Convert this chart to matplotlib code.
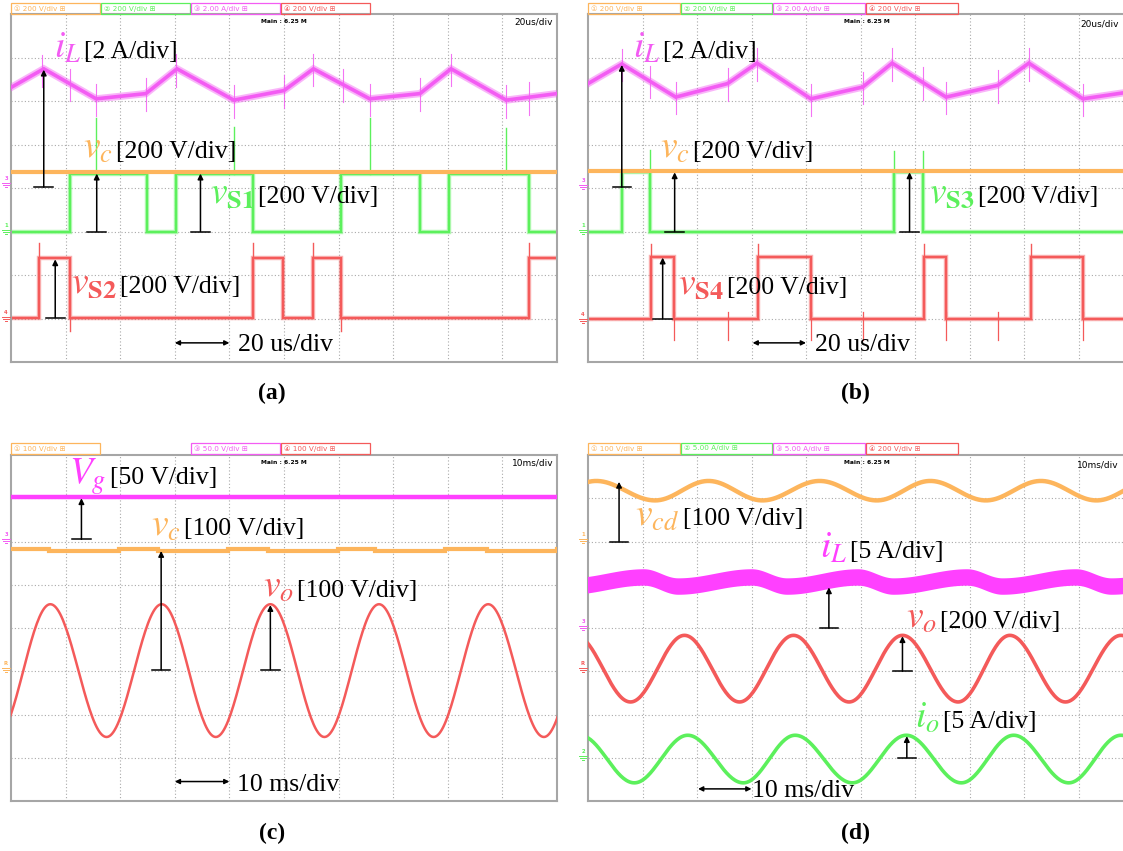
import numpy as np
import matplotlib
matplotlib.use("Agg")
import matplotlib.pyplot as plt
from matplotlib.patches import Rectangle
from matplotlib.lines import Line2D

plt.rcParams['font.family'] = ['Liberation Serif', 'DejaVu Serif']
plt.rcParams['mathtext.fontset'] = 'stix'

W, H = 1123, 851
MAGENTA = '#f35cf3'
MAGENTA_DC = '#ff40ff'
ORANGE = '#fdb55c'
GREEN = '#5cf05c'
RED = '#f45a5a'

# ---------------- (a) S1 / S2 switching, 20 us/div (values in divisions) ----------------
a_iL_t = [0.0, 0.60, 1.56, 2.47, 3.04, 4.08, 5.00, 5.54, 6.57, 7.49, 8.06, 9.07, 10.0]
a_iL_v = [6.31, 6.74, 6.05, 6.17, 6.74, 6.02, 6.24, 6.74, 6.05, 6.17, 6.74, 6.02, 6.17]
a_vc = 4.36
a_vs1_edges = [1.08, 2.49, 3.02, 4.44, 6.05, 7.49, 8.02, 9.48]
a_vs1_lo, a_vs1_hi = 3.0, 4.33
a_vs2_edges = [0.52, 1.08, 4.44, 4.99, 5.54, 6.05, 9.48]
a_vs2_lo, a_vs2_hi = 1.02, 2.38
a_iL_spikes = [0.56, 1.08, 1.56, 2.47, 3.02, 4.08, 5.00, 5.54, 6.08, 6.57, 7.49, 8.06, 9.07, 9.48]
a_vs1_spikes = [1.56, 4.08, 6.57, 9.07]
a_vs1_spike_top = [5.62, 5.40, 5.60, 5.38]

# ---------------- (b) S3 / S4 switching, 20 us/div ----------------
b_iL_t = [0.0, 0.62, 1.61, 2.56, 3.10, 4.09, 5.04, 5.58, 6.57, 7.52, 8.09, 9.08, 10.0]
b_iL_v = [6.40, 6.85, 6.09, 6.40, 6.87, 6.05, 6.32, 6.87, 6.09, 6.36, 6.87, 6.05, 6.22]
b_vc = 4.39
b_vs3_edges = [0.62, 1.13, 5.61, 6.15]
b_vs3_lo, b_vs3_hi = 3.0, 4.36
b_vs4_edges = [1.15, 1.58, 3.12, 4.09, 6.17, 6.57, 8.12, 9.08]
b_vs4_lo, b_vs4_hi = 1.0, 2.42
b_iL_spikes = [0.62, 1.13, 1.61, 2.56, 3.10, 4.09, 5.04, 5.58, 6.15, 6.57, 7.52, 8.09, 9.08]
b_vs3_spikes = [1.13, 5.61, 6.15]
b_vs3_spike_top = [4.87, 4.85, 4.85]
b_vs4_spikes = [1.58, 2.56, 4.09, 5.04, 6.57, 7.52, 9.08]

# ---------------- (c) line-frequency waveforms, 10 ms/div ----------------
c_vg = 7.02
c_vc_hi, c_vc_lo = 5.82, 5.77
c_vc_hi_spans = [(0.0, 0.70), (1.98, 2.70), (3.98, 4.70), (5.98, 6.67), (7.95, 8.71)]
c_vo_t = [-0.27, 0.72, 1.75, 2.76, 3.75, 4.75, 5.74, 6.74, 7.74, 8.74, 9.76, 10.75]
c_vo_v = [1.48, 4.55, 1.48, 4.55, 1.48, 4.55, 1.48, 4.55, 1.48, 4.55, 1.48, 4.55]

# ---------------- (d) line-frequency waveforms, 10 ms/div ----------------
d_vcd_t = [-0.85, 0.15, 1.23, 2.21, 3.20, 4.25, 5.30, 6.28, 7.30, 8.31, 9.33, 10.33]
d_vcd_v = [6.95, 7.40, 6.95, 7.40, 6.95, 7.40, 6.95, 7.40, 6.95, 7.40, 6.95, 7.40]
d_iL_t = [-0.98, -0.35, 1.02, 1.65, 3.00, 3.65, 4.95, 5.60, 6.95, 7.60, 8.95, 9.60, 10.95]
d_iL_v = [5.18, 4.97, 5.18, 4.97, 5.18, 4.97, 5.18, 4.97, 5.18, 4.97, 5.18, 4.97, 5.18]
d_iL_ripple = 0.19
d_vo_t = [-0.23, 0.78, 1.77, 2.78, 3.77, 4.79, 5.77, 6.79, 7.74, 8.76, 9.78, 10.78]
d_vo_v = [3.83, 2.29, 3.83, 2.29, 3.83, 2.29, 3.83, 2.29, 3.83, 2.29, 3.83, 2.29]
d_io_t = [-0.15, 0.85, 1.83, 2.85, 3.80, 4.85, 5.84, 6.85, 7.81, 8.82, 9.78, 10.80]
d_io_v = [1.52, 0.42, 1.52, 0.42, 1.52, 0.42, 1.52, 0.42, 1.52, 0.42, 1.52, 0.42]

fig = plt.figure(figsize=(W / 100, H / 100), dpi=100)
fig.patch.set_facecolor('white')


def scope_axes(x0, y0, x1, y1):
    ax = fig.add_axes([x0 / W, 1 - y1 / H, (x1 - x0) / W, (y1 - y0) / H])
    ax.set_xlim(0, 10)
    ax.set_ylim(0, 8)
    ax.set_xticks([])
    ax.set_yticks([])
    for k in range(1, 10):
        ax.axvline(k, color='#a9a9a9', lw=0.8, ls=(0, (1, 2)), zorder=0)
    for k in range(1, 8):
        ax.axhline(k, color='#a9a9a9', lw=0.8, ls=(0, (1, 2)), zorder=0)
    for s in ax.spines.values():
        s.set_color('#a6a6a6')
        s.set_linewidth(1.5)
    return ax


def square(edges, lo, hi):
    xs, ys = [0.0], [lo]
    state = False
    for e in edges:
        cur = hi if state else lo
        state = not state
        nxt = hi if state else lo
        xs += [e, e]
        ys += [cur, nxt]
    xs.append(10.0)
    ys.append(hi if state else lo)
    return xs, ys


def smooth(t_ext, v_ext, n=40):
    xs, ys = [], []
    for i in range(len(t_ext) - 1):
        s = np.linspace(0, 1, n, endpoint=False)
        xs.append(t_ext[i] + (t_ext[i + 1] - t_ext[i]) * s)
        ys.append(v_ext[i] + (v_ext[i + 1] - v_ext[i]) * (1 - np.cos(np.pi * s)) / 2)
    xs.append([t_ext[-1]])
    ys.append([v_ext[-1]])
    return np.concatenate(xs), np.concatenate(ys)


def trace(ax, x, y, color, lw, z=3, halo=True):
    if halo:
        ax.plot(x, y, color=color, lw=lw * 2.0, alpha=0.45, zorder=z, solid_joinstyle='miter')
    ax.plot(x, y, color=color, lw=lw, zorder=z, solid_joinstyle='miter')


def arrow(ax, x, y0, y1, hw=0.17):
    ax.plot([x - hw, x + hw], [y0, y0], color='black', lw=1.1, zorder=6)
    ax.annotate('', xy=(x, y1), xytext=(x, y0),
                arrowprops=dict(arrowstyle='-|>', color='black', lw=1.1,
                                mutation_scale=8, shrinkA=0, shrinkB=0), zorder=6)


def span_arrow(ax, x0, x1, y):
    ax.annotate('', xy=(x1, y), xytext=(x0, y),
                arrowprops=dict(arrowstyle='<|-|>', color='black', lw=1.1,
                                mutation_scale=7, shrinkA=0, shrinkB=0), zorder=6)


def label(ax, x, y, sym, color, txt, gap=0.06):
    ax.text(x, y, txt, fontsize=18.5, color='black', ha='left', va='baseline', zorder=7)
    ax.text(x - gap, y, sym, fontsize=27, color=color, ha='right', va='baseline', zorder=7)


def header(items, py0, py1):
    for txt, col, x0, x1 in items:
        fig.add_artist(Rectangle((x0 / W, 1 - py1 / H), (x1 - x0) / W, (py1 - py0) / H,
                                 fill=False, edgecolor=col, lw=0.9))
        fig.text((x0 + 3) / W, 1 - (py0 + py1) / 2 / H, txt, fontsize=5.2, color=col,
                 va='center', ha='left', family=['DejaVu Sans', 'Noto Sans CJK SC'])


def screen_info(ax, base):
    ax.text(0.5, 0.985, 'Main : 6.25 M', transform=ax.transAxes, fontsize=4.3,
            family='DejaVu Sans', weight='bold', ha='center', va='top')
    ax.text(0.993, 0.99, base, transform=ax.transAxes, fontsize=6.5,
            family='DejaVu Sans', ha='right', va='top')


def gnd(px, py, color, tag):
    fig.text(px / W, 1 - (py - 1) / H, tag, fontsize=3.8, color=color, ha='center',
             va='bottom', family='DejaVu Sans', weight='bold')
    for k, w in enumerate([4.0, 2.8, 1.4]):
        y = 1 - (py + 1 + k * 2) / H
        fig.add_artist(Line2D([(px - w) / W, (px + w) / W], [y, y], color=color, lw=0.7))


def spikes(ax, ts, base_t, base_v, up, down, color, lw=0.8):
    for t in ts:
        v = np.interp(t, base_t, base_v)
        ax.plot([t, t], [v - down, v + up], color=color, lw=lw, alpha=0.85, zorder=3)


# ================= (a) =================
axa = scope_axes(11, 14, 557, 362)
x, y = square(a_vs1_edges, a_vs1_lo, a_vs1_hi)
trace(axa, x, y, GREEN, 1.6, z=2)
for t, top in zip(a_vs1_spikes, a_vs1_spike_top):
    axa.plot([t, t], [a_vs1_hi, top], color=GREEN, lw=1.0, zorder=2)
x, y = square(a_vs2_edges, a_vs2_lo, a_vs2_hi)
trace(axa, x, y, RED, 1.6, z=2)
for t in [0.52, 4.44, 5.54, 9.48]:
    axa.plot([t, t], [a_vs2_hi, a_vs2_hi + 0.35], color=RED, lw=1.0, zorder=2)
for t in [1.08, 6.05]:
    axa.plot([t, t], [a_vs2_lo - 0.3, a_vs2_lo], color=RED, lw=1.0, zorder=2)
axa.plot([0, 10], [a_vc, a_vc], color=ORANGE, lw=3.0, zorder=3)
trace(axa, a_iL_t, a_iL_v, MAGENTA, 2.6, z=4)
spikes(axa, a_iL_spikes, a_iL_t, a_iL_v, 0.35, 0.4, MAGENTA)
arrow(axa, 0.60, 4.02, 6.72)
arrow(axa, 1.57, 3.0, 4.33)
arrow(axa, 3.47, 3.0, 4.33)
arrow(axa, 0.81, 1.02, 2.36)
span_arrow(axa, 3.0, 4.0, 0.44)
label(axa, 1.34, 6.99, r'$i_L$', MAGENTA, '[2 A/div]')
label(axa, 1.92, 4.69, r'$v_c$', ORANGE, '[200 V/div]')
label(axa, 4.52, 3.66, r'$v_{\mathbf{S1}}$', GREEN, '[200 V/div]')
label(axa, 2.00, 1.59, r'$v_{\mathbf{S2}}$', RED, '[200 V/div]')
axa.text(4.16, 0.25, '20 us/div', fontsize=18.5, ha='left', va='baseline', zorder=7)
screen_info(axa, '20us/div')

# ================= (b) =================
axb = scope_axes(588, 14, 1133, 362)
x, y = square(b_vs3_edges, b_vs3_lo, b_vs3_hi)
trace(axb, x, y, GREEN, 1.6, z=2)
for t, top in zip(b_vs3_spikes, b_vs3_spike_top):
    axb.plot([t, t], [b_vs3_hi, top], color=GREEN, lw=1.0, zorder=2)
x, y = square(b_vs4_edges, b_vs4_lo, b_vs4_hi)
trace(axb, x, y, RED, 1.6, z=2)
for t in [1.15, 3.12, 6.17, 8.12]:
    axb.plot([t, t], [b_vs4_hi, b_vs4_hi + 0.3], color=RED, lw=1.0, zorder=2)
for t in b_vs4_spikes:
    axb.plot([t, t], [b_vs4_lo - 0.5, b_vs4_lo + 0.15], color=RED, lw=0.9, zorder=2)
axb.plot([0, 10], [b_vc, b_vc], color=ORANGE, lw=3.0, zorder=3)
trace(axb, b_iL_t, b_iL_v, MAGENTA, 2.6, z=4)
spikes(axb, b_iL_spikes, b_iL_t, b_iL_v, 0.35, 0.4, MAGENTA)
arrow(axb, 0.62, 4.02, 6.83)
arrow(axb, 1.59, 3.0, 4.36)
arrow(axb, 5.90, 3.0, 4.36)
arrow(axb, 1.37, 1.0, 2.40)
span_arrow(axb, 3.02, 4.0, 0.44)
label(axb, 1.38, 6.99, r'$i_L$', MAGENTA, '[2 A/div]')
label(axb, 1.93, 4.69, r'$v_c$', ORANGE, '[200 V/div]')
label(axb, 7.16, 3.66, r'$v_{\mathbf{S3}}$', GREEN, '[200 V/div]')
label(axb, 2.55, 1.57, r'$v_{\mathbf{S4}}$', RED, '[200 V/div]')
axb.text(4.17, 0.25, '20 us/div', fontsize=18.5, ha='left', va='baseline', zorder=7)
axb.text(10.0 * (1119 - 588) / 545, 7.88, '20us/div', fontsize=6.5, family='DejaVu Sans',
         ha='right', va='top')
axb.text(0.5 * 10 * (1123 - 588) / 545 + 0.2, 7.88, 'Main : 6.25 M', fontsize=4.3,
         family='DejaVu Sans', weight='bold', ha='center', va='top')

# ================= (c) =================
axc = scope_axes(11, 455, 557, 801)
axc.plot([0, 10], [c_vg, c_vg], color=MAGENTA_DC, lw=3.2, zorder=3)
xs, ys = [0.0], [c_vc_hi]
for (s0, s1), (n0, _) in zip(c_vc_hi_spans, c_vc_hi_spans[1:] + [(10.0, 10.0)]):
    xs += [s0, s1, s1, n0, n0]
    ys += [c_vc_hi, c_vc_hi, c_vc_lo, c_vc_lo, c_vc_hi]
trace(axc, xs[1:], ys[1:], ORANGE, 3.0, z=3, halo=False)
x, y = smooth(c_vo_t, c_vo_v)
axc.plot(x, y, color=RED, lw=1.8, zorder=3)
arrow(axc, 1.29, 6.05, 7.0)
arrow(axc, 2.75, 3.03, 5.78)
arrow(axc, 4.75, 3.03, 4.53)
span_arrow(axc, 3.0, 4.0, 0.45)
label(axc, 1.81, 7.34, r'$V_g$', MAGENTA_DC, '[50 V/div]')
label(axc, 3.17, 6.14, r'$v_c$', ORANGE, '[100 V/div]')
label(axc, 5.24, 4.72, r'$v_o$', RED, '[100 V/div]')
axc.text(4.14, 0.24, '10 ms/div', fontsize=18.5, ha='left', va='baseline', zorder=7)
screen_info(axc, '10ms/div')

# ================= (d) =================
axd = scope_axes(588, 455, 1133, 801)
x, y = smooth(d_vcd_t, d_vcd_v)
axd.plot(x, y, color=ORANGE, lw=3.2, zorder=3)
x, y = smooth(d_iL_t, d_iL_v)
axd.fill_between(x, y - d_iL_ripple, y + d_iL_ripple, color=MAGENTA_DC, lw=0, zorder=3)
x, y = smooth(d_vo_t, d_vo_v)
axd.plot(x, y, color=RED, lw=2.6, zorder=3)
x, y = smooth(d_io_t, d_io_v)
axd.plot(x, y, color=GREEN, lw=2.6, zorder=3)
arrow(axd, 0.57, 6.0, 7.38)
arrow(axd, 4.42, 4.0, 4.94)
arrow(axd, 5.77, 3.0, 3.81)
arrow(axd, 5.85, 1.0, 1.50)
span_arrow(axd, 2.02, 3.0, 0.28)
label(axd, 1.74, 6.37, r'$v_{cd}$', ORANGE, '[100 V/div]')
label(axd, 4.81, 5.61, r'$i_L$', MAGENTA_DC, '[5 A/div]')
label(axd, 6.46, 4.00, r'$v_o$', RED, '[200 V/div]')
label(axd, 6.51, 1.69, r'$i_o$', GREEN, '[5 A/div]')
axd.text(3.0, 0.10, '10 ms/div', fontsize=18.5, ha='left', va='baseline', zorder=7)
axd.text(10.0 * (1119 - 588) / 545, 7.88, '10ms/div', fontsize=6.5, family='DejaVu Sans',
         ha='right', va='top')
axd.text(0.5 * 10 * (1123 - 588) / 545 + 0.2, 7.88, 'Main : 6.25 M', fontsize=4.3,
         family='DejaVu Sans', weight='bold', ha='center', va='top')

# channel settings bars above each screen
header([('\u2460 200 V/div \u229e', ORANGE, 11, 100), ('\u2461 200 V/div \u229e', GREEN, 101, 190),
        ('\u2462 2.00 A/div \u229e', MAGENTA, 191, 280), ('\u2463 200 V/div \u229e', RED, 281, 370)], 3, 14)
header([('\u2460 200 V/div \u229e', ORANGE, 588, 680), ('\u2461 200 V/div \u229e', GREEN, 681, 772),
        ('\u2462 2.00 A/div \u229e', MAGENTA, 773, 865), ('\u2463 200 V/div \u229e', RED, 866, 958)], 3, 14)
header([('\u2460 100 V/div \u229e', ORANGE, 11, 100), ('\u2462 50.0 V/div \u229e', MAGENTA, 191, 280),
        ('\u2463 100 V/div \u229e', RED, 281, 370)], 443, 454)
header([('\u2460 100 V/div \u229e', ORANGE, 588, 680), ('\u2461 5.00 A/div \u229e', GREEN, 681, 772),
        ('\u2462 5.00 A/div \u229e', MAGENTA, 773, 865), ('\u2463 200 V/div \u229e', RED, 866, 958)], 443, 454)

# channel ground markers on the left of each screen
gnd(6, 182, MAGENTA, '3')
gnd(6, 229, GREEN, '1')
gnd(6, 316, RED, '4')
gnd(583, 184, MAGENTA, '3')
gnd(583, 229, GREEN, '1')
gnd(583, 318, RED, '4')
gnd(6, 538, MAGENTA, '3')
gnd(6, 667, ORANGE, 'R')
gnd(583, 538, ORANGE, '1')
gnd(583, 625, MAGENTA, '3')
gnd(583, 667, RED, 'R')
gnd(583, 755, GREEN, '2')

# sub-figure captions
for cx, cy, cap in [(272, 393, '(a)'), (855, 393, '(b)'), (272, 833, '(c)'), (855, 833, '(d)')]:
    fig.text(cx / W, 1 - cy / H, cap, fontsize=17, weight='bold', ha='center', va='center')

fig.savefig('out.png', dpi=100, facecolor='white')
